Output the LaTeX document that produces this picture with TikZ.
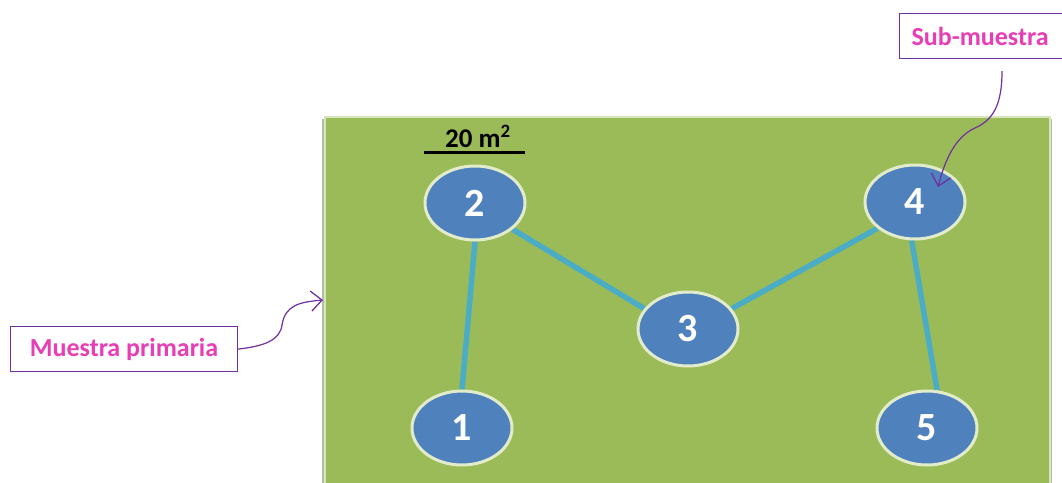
\documentclass[tikz,border=0pt]{standalone}
\usepackage{fontspec}
\setmainfont{Carlito}
\usetikzlibrary{arrows.meta,shapes.geometric,backgrounds}
\pgfdeclarelayer{field}
\pgfsetlayers{field,background,main}
\definecolor{grass}{HTML}{9BBB59}
\definecolor{grassedge}{HTML}{D7E4BD}
\definecolor{blob}{HTML}{4F81BD}
\definecolor{blobedge}{HTML}{E2ECCB}
\definecolor{link}{HTML}{4BACC6}
\definecolor{lblpurple}{HTML}{7030A0}
\definecolor{lblpink}{HTML}{E83EB5}
\tikzset{
  site/.style={ellipse, minimum width=100pt, minimum height=74pt, fill=blob, draw=blobedge, line width=3pt, text=white, font=\fontsize{40}{40}\selectfont\bfseries, inner sep=0pt},
  linkline/.style={draw=link, line width=5.5pt},
  labelbox/.style={draw=lblpurple, line width=1.2pt, fill=white, text=lblpink, font=\fontsize{26}{26}\selectfont\bfseries, inner sep=0pt},
  callout/.style={draw=lblpurple, line width=1.2pt, -{Straight Barb[length=11pt,width=20pt,line width=1.3pt]}},
}
\begin{document}
\begin{tikzpicture}[x=1pt,y=-1pt]
\useasboundingbox (0,0) rectangle (1062,482);
% nodes
\node[site] (n2) at (475,203) {2};
\node[site] (n4) at (915,202) {4};
\node[site] (n3) at (688,329) {3};
\node[site] (n1) at (462,428) {1};
\node[site] (n5) at (927,428) {5};
% links
\begin{pgfonlayer}{background}
\draw[linkline] (n2.south) -- (n1.north);
\draw[linkline] (n2.-35) -- (n3.155);
\draw[linkline] (n3.25) -- (n4.-145);
\draw[linkline] (n4.-95) -- (n5.75);
\end{pgfonlayer}
% field
\begin{pgfonlayer}{field}
\fill[white] (0,0) rectangle (1062,482);
\fill[grass!60!black, opacity=0.45] (322,119) rectangle (1052,484);
\fill[grass, draw=grassedge, line width=1.5pt] (325,117) rectangle (1050,484);
\end{pgfonlayer}
% scale bar
\coordinate (sbl) at (424,152);
\coordinate (sbr) at (525,152);
\draw[black, line width=3pt] (sbl) -- (sbr);
\node[font=\fontsize{27}{27}\selectfont\bfseries, anchor=base, inner sep=0pt] (scale) at (478,147) {20 m\textsuperscript{2}};
% labels
\node[labelbox, minimum width=165pt, minimum height=45pt, anchor=north west] (sub) at (899,13) {\hspace*{-4pt}Sub-muestra};
\node[labelbox, minimum width=227pt, minimum height=45pt, anchor=north west] (prim) at (10,326) {Muestra primaria};
\clip (0,0) rectangle (1062,482);
\coordinate (subtip) at (938,187);
\coordinate (primtip) at (323,300);
\draw[callout] (1002,71) .. controls (1002,105) and (993,120) .. (975,128) .. controls (955,137) and (945,160) .. (subtip);
\draw[callout] (prim.east) .. controls (265,346) and (280,340) .. (282,325) .. controls (285,305) and (300,302) .. (primtip);
\end{tikzpicture}
\end{document}
